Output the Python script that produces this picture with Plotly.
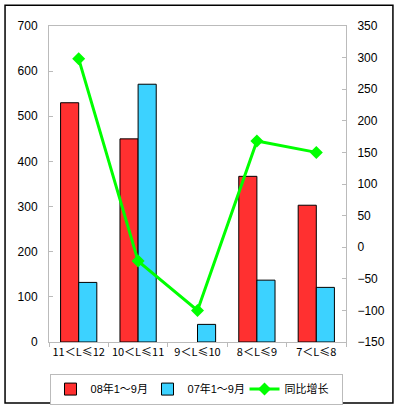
import plotly.graph_objects as go

categories = ["11＜L≤12", "10＜L≤11", "9＜L≤10", "8＜L≤9", "7＜L≤8"]
sales_08 = [530, 450, 0, 367, 303]
sales_07 = [132, 571, 39, 137, 121]
growth = [298, -22, -100, 168, 150]

fig = go.Figure()
fig.add_trace(go.Bar(x=categories, y=sales_08, name="08年1～9月",
                     marker=dict(color="#FF3030",
                                 line=dict(color="black",
                                           width=[0 if v == 0 else 1 for v in sales_08]))))
fig.add_trace(go.Bar(x=categories, y=sales_07, name="07年1～9月",
                     marker=dict(color="#3CD2FF",
                                 line=dict(color="black",
                                           width=[0 if v == 0 else 1 for v in sales_07]))))
fig.add_trace(go.Scatter(x=categories, y=growth, name="同比增长", yaxis="y2",
                         mode="lines+markers",
                         line=dict(color="#00FF00", width=3),
                         marker=dict(symbol="diamond", size=10, color="#00FF00")))

fig.update_layout(
    width=399, height=409,
    margin=dict(l=49, r=53, t=26, b=67, autoexpand=False),
    paper_bgcolor="white", plot_bgcolor="white",
    font=dict(family="Liberation Sans, Arial, Noto Sans CJK SC", size=12, color="black"),
    barmode="group", bargap=0.39, bargroupgap=0,
    showlegend=True,
    legend=dict(orientation="h", x=0.495, xanchor="center", y=-0.149, yanchor="middle",
                bordercolor="#BBBBBB", borderwidth=1, font=dict(size=11),
                entrywidth=52, tracegroupgap=0),
    xaxis=dict(showline=True, linecolor="#BBBBBB", mirror=True, ticks="outside",
               tickcolor="#BBBBBB", ticklen=4, showgrid=False, automargin=False,
               tickson="boundaries", tickangle=0,
               tickfont=dict(family="Noto Sans CJK SC", size=11)),
    yaxis=dict(range=[0, 700], dtick=100, showline=True, linecolor="#BBBBBB",
               showgrid=False, zeroline=False, ticks="inside", tickcolor="#BBBBBB",
               ticklen=4, ticklabelstandoff=8, automargin=False),
    yaxis2=dict(range=[-150, 350], dtick=50, overlaying="y", side="right",
                showline=True, linecolor="#BBBBBB", showgrid=False, zeroline=False,
                ticks="inside", tickcolor="#BBBBBB", ticklen=4, ticklabelstandoff=8,
                automargin=False),
    shapes=[dict(type="rect", xref="paper", yref="paper",
                 x0=-0.148, x1=1.158, y0=-0.193, y1=1.066,
                 line=dict(color="black", width=1.5), fillcolor="rgba(0,0,0,0)")],
)

fig.write_html("out.html", config={"displayModeBar": False},
               post_script="document.body.style.margin='0';document.body.style.overflow='hidden';")
